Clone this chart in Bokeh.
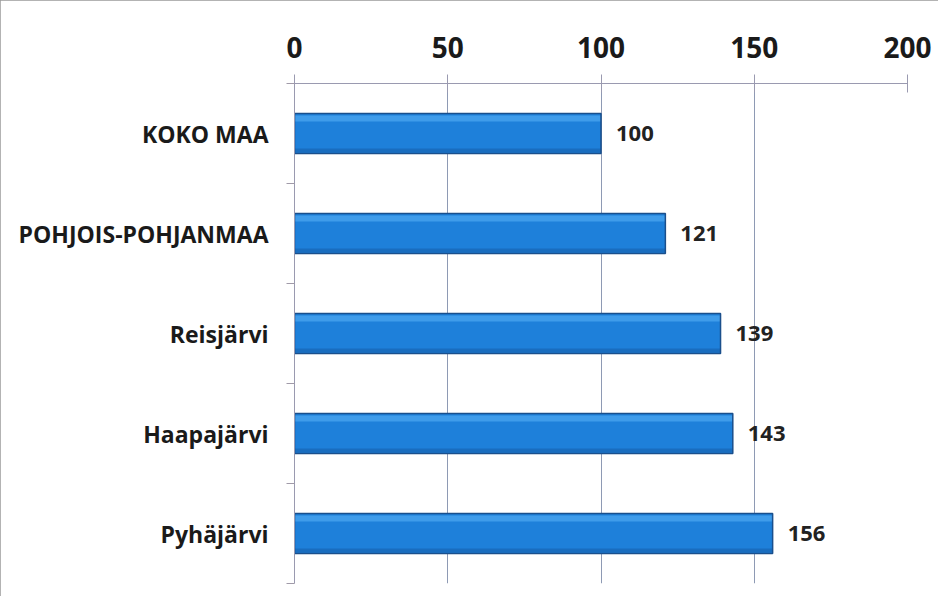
from bokeh.plotting import figure
from bokeh.models import ColumnDataSource, FixedTicker, Range1d, LabelSet
from bokeh.core.properties import value
from bokeh.embed import file_html
from bokeh.resources import INLINE

categories = ["KOKO MAA", "POHJOIS-POHJANMAA", "Reisjärvi", "Haapajärvi", "Pyhäjärvi"]
values = [100, 121, 139, 143, 156]
x_ticks = [0, 50, 100, 150, 200]

n = len(categories)
ypos = [n - i - 0.5 for i in range(n)]
bar_h = 0.4
src = ColumnDataSource(dict(
    y=ypos, v=values, lab=[str(v) for v in values],
    y_hi=[y + bar_h / 2 - 0.05 for y in ypos],
    y_lo=[y - bar_h / 2 + 0.03 for y in ypos],
))

FONT = "Open Sans"

p = figure(width=938, height=596, output_backend="svg", toolbar_location=None,
           x_range=Range1d(0, 200), y_range=Range1d(0, n),
           x_axis_location="above",
           min_border_left=294, min_border_right=31, min_border_top=83, min_border_bottom=13)
p.styles = {"outline": "2px solid #9a9a9a", "outline-offset": "-2px"}
p.outline_line_color = None
p.background_fill_color = "white"
p.border_fill_color = "white"

p.hbar(y="y", right="v", left=0, height=bar_h, source=src,
       fill_color="#1e80da", line_color=None)
p.hbar(y="y_hi", right="v", left=0, height=0.06, source=src,
       fill_color="#3f9cea", line_color=None)
p.hbar(y="y_lo", right="v", left=0, height=0.04, source=src,
       fill_color="#196dbf", line_color=None)
p.hbar(y="y", right="v", left=0, height=bar_h, source=src,
       fill_color=None, line_color="#1a4f8c", line_width=1.5)

labels = LabelSet(x="v", y="y", text="lab", source=src, x_offset=15, y_offset=0,
                  text_baseline="middle", text_font=value(FONT), text_font_style="bold",
                  text_font_size="22px", text_color="#222222")
p.add_layout(labels)

# x axis on top
xa = p.xaxis[0]
xa.ticker = FixedTicker(ticks=x_ticks)
xa.major_label_text_font = FONT
xa.major_label_text_font_style = "bold"
xa.major_label_text_font_size = "28px"
xa.major_label_text_color = "#1a1a1a"
xa.major_label_standoff = 17
xa.major_tick_in = 9
xa.major_tick_out = 9
xa.minor_tick_line_color = None
xa.axis_line_color = "#9a9ab0"
xa.major_tick_line_color = "#9a9ab0"

# y axis
ya = p.yaxis[0]
ya.ticker = FixedTicker(ticks=ypos, minor_ticks=list(range(n + 1)))
ya.major_label_overrides = {y: c for y, c in zip(ypos, categories)}
ya.major_label_text_font = FONT
ya.major_label_text_font_style = "bold"
ya.major_label_text_font_size = "23px"
ya.major_label_text_color = "#1a1a1a"
ya.major_tick_line_color = None
ya.major_tick_out = 0
ya.major_tick_in = 0
ya.minor_tick_in = 0
ya.minor_tick_out = 8
ya.minor_tick_line_color = "#a09aa8"
ya.axis_line_color = "#9a9ab0"
ya.major_label_standoff = 18

p.ygrid.grid_line_color = None
p.xgrid.ticker = FixedTicker(ticks=x_ticks)
p.xgrid.grid_line_color = "#8e9ab4"
p.xgrid.grid_line_width = 1

open("out.html", "w").write(file_html(p, INLINE))
